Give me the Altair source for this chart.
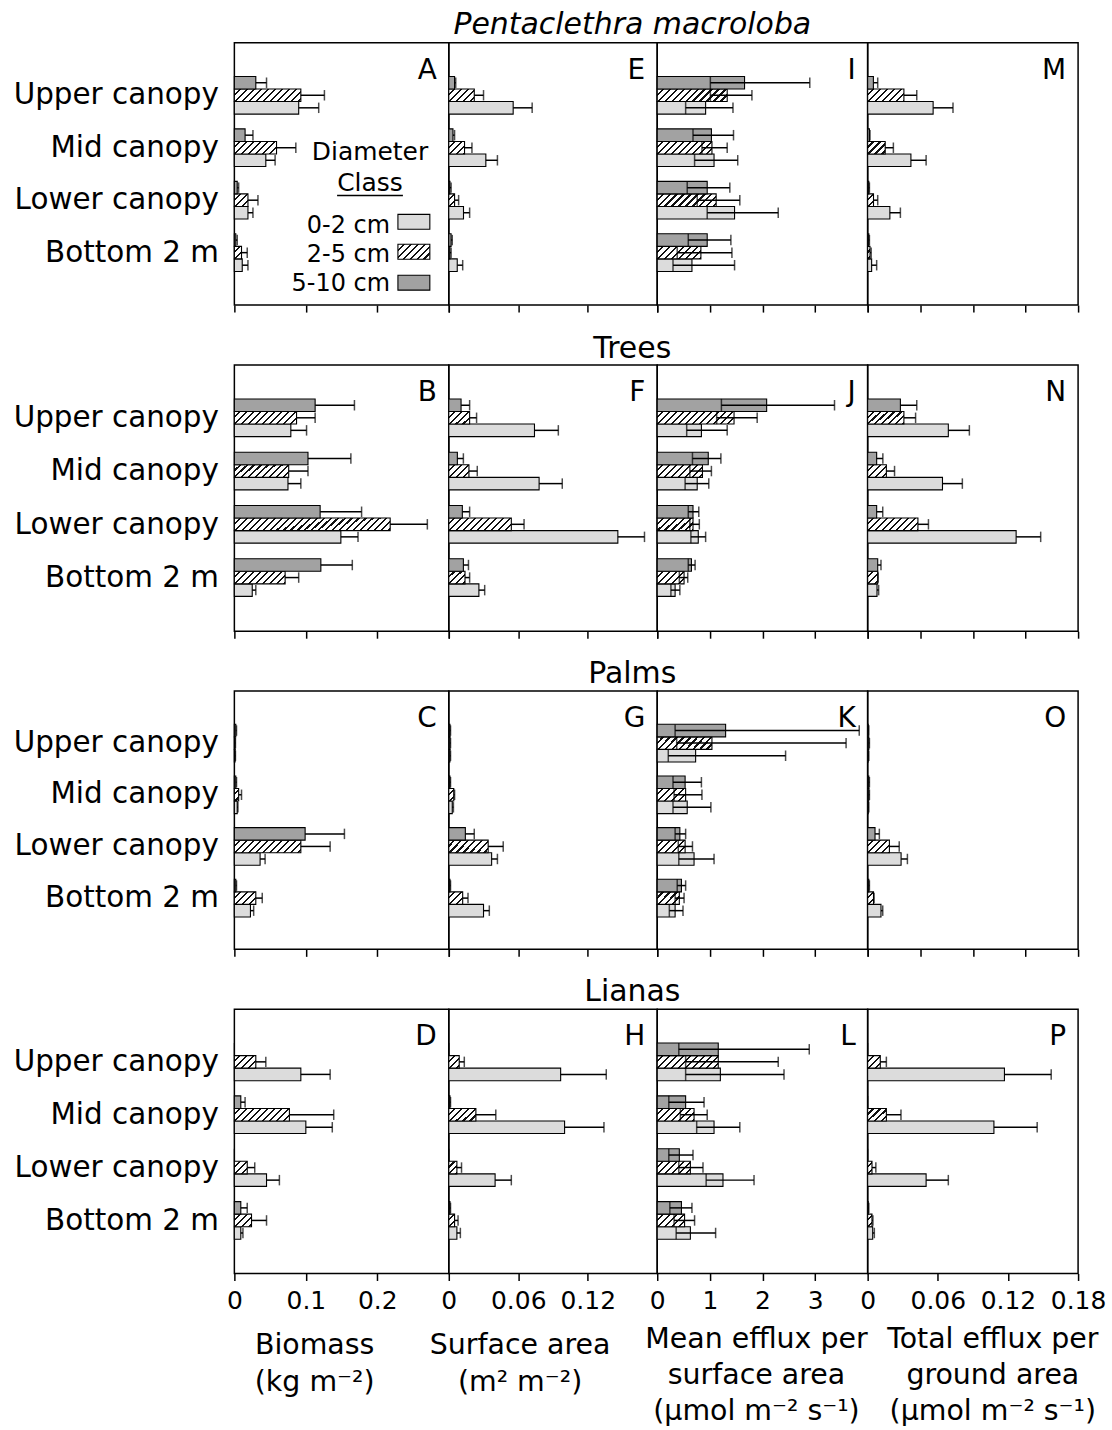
import altair as alt

# ---------------------------------------------------------------- categories
categories = ["Upper canopy", "Mid canopy", "Lower canopy", "Bottom 2 m"]
classes = ["0-2 cm", "2-5 cm", "5-10 cm"]
bar_order = ["5-10 cm", "2-5 cm", "0-2 cm"]  # top-to-bottom inside one canopy layer
groups = ["Pentaclethra macroloba", "Trees", "Palms", "Lianas"]
letters = [["A", "E", "I", "M"], ["B", "F", "J", "N"], ["C", "G", "K", "O"], ["D", "H", "L", "P"]]

# ---------------------------------------------------------------- axes
x_max = [0.3, 0.18, 4.0, 0.18]
ticks_bottom = [[0, 0.1, 0.2], [0, 0.06, 0.12], [0, 1, 2, 3], [0, 0.06, 0.12, 0.18]]
ticks_upper = [[0, 0.1, 0.2, 0.3], [0, 0.06, 0.12, 0.18], [0, 1, 2, 3, 4], [0, 0.045, 0.09, 0.135, 0.18]]
x_titles = [["Biomass", "(kg m⁻²)"],
            ["Surface area", "(m² m⁻²)"],
            ["Mean efflux per", "surface area", "(µmol m⁻² s⁻¹)"],
            ["Total efflux per", "ground area", "(µmol m⁻² s⁻¹)"]]

# ---------------------------------------------------------------- data
# mean per diameter class (ordered as `categories`); *_top = end of error bar;
# *_inner = inner marker drawn inside the efflux bars
pm_biomass = {"0-2 cm": [0.090, 0.044, 0.019, 0.011], "2-5 cm": [0.093, 0.059, 0.019, 0.010], "5-10 cm": [0.030, 0.015, 0.004, 0.002]}
pm_biomass_top = {"0-2 cm": [0.118, 0.057, 0.026, 0.019], "2-5 cm": [0.126, 0.086, 0.033, 0.018], "5-10 cm": [0.045, 0.026, 0.006, 0.004]}
pm_area = {"0-2 cm": [0.0556, 0.032, 0.0127, 0.0073], "2-5 cm": [0.022, 0.0136, 0.005, 0.001], "5-10 cm": [0.005, 0.0036, 0.001, 0.002]}
pm_area_top = {"0-2 cm": [0.072, 0.042, 0.018, 0.012], "2-5 cm": [0.030, 0.020, 0.0085, 0.002], "5-10 cm": [0.006, 0.005, 0.002, 0.003]}
pm_flux = {"0-2 cm": [0.92, 1.08, 1.47, 0.66], "2-5 cm": [1.33, 1.04, 1.12, 0.83], "5-10 cm": [1.66, 1.03, 0.95, 0.95]}
pm_flux_inner = {"0-2 cm": [0.54, 0.71, 0.95, 0.30], "2-5 cm": [1.01, 0.85, 0.76, 0.38], "5-10 cm": [1.01, 0.68, 0.57, 0.59]}
pm_flux_top = {"0-2 cm": [1.44, 1.53, 2.30, 1.47], "2-5 cm": [1.80, 1.33, 1.57, 1.42], "5-10 cm": [2.90, 1.45, 1.38, 1.40]}
pm_total = {"0-2 cm": [0.056, 0.037, 0.019, 0.0034], "2-5 cm": [0.031, 0.015, 0.005, 0.002], "5-10 cm": [0.0049, 0.0015, 0.001, 0.001]}
pm_total_top = {"0-2 cm": [0.073, 0.050, 0.028, 0.0077], "2-5 cm": [0.042, 0.022, 0.0086, 0.003], "5-10 cm": [0.0086, 0.002, 0.0015, 0.0015]}

tr_biomass = {"0-2 cm": [0.079, 0.075, 0.149, 0.025], "2-5 cm": [0.087, 0.076, 0.218, 0.071], "5-10 cm": [0.113, 0.103, 0.120, 0.121]}
tr_biomass_top = {"0-2 cm": [0.101, 0.093, 0.173, 0.030], "2-5 cm": [0.113, 0.103, 0.270, 0.090], "5-10 cm": [0.168, 0.163, 0.178, 0.165]}
tr_area = {"0-2 cm": [0.074, 0.078, 0.146, 0.026], "2-5 cm": [0.018, 0.0174, 0.054, 0.014], "5-10 cm": [0.0106, 0.0074, 0.0117, 0.0126]}
tr_area_top = {"0-2 cm": [0.0946, 0.098, 0.169, 0.031], "2-5 cm": [0.024, 0.0246, 0.065, 0.018], "5-10 cm": [0.018, 0.0126, 0.018, 0.017]}
tr_flux = {"0-2 cm": [0.84, 0.76, 0.78, 0.34], "2-5 cm": [1.46, 0.86, 0.68, 0.51], "5-10 cm": [2.08, 0.97, 0.68, 0.65]}
tr_flux_inner = {"0-2 cm": [0.56, 0.53, 0.64, 0.26], "2-5 cm": [1.13, 0.62, 0.62, 0.42], "5-10 cm": [1.22, 0.67, 0.59, 0.59]}
tr_flux_top = {"0-2 cm": [1.33, 0.98, 0.92, 0.43], "2-5 cm": [1.90, 1.03, 0.80, 0.58], "5-10 cm": [3.37, 1.21, 0.79, 0.72]}
tr_total = {"0-2 cm": [0.069, 0.064, 0.127, 0.008], "2-5 cm": [0.031, 0.016, 0.043, 0.0086], "5-10 cm": [0.028, 0.0077, 0.0077, 0.0086]}
tr_total_top = {"0-2 cm": [0.087, 0.081, 0.148, 0.0094], "2-5 cm": [0.041, 0.023, 0.052, 0.009], "5-10 cm": [0.042, 0.013, 0.0129, 0.0114]}

pa_biomass = {"0-2 cm": [0.001, 0.004, 0.036, 0.0225], "2-5 cm": [0.001, 0.006, 0.093, 0.030], "5-10 cm": [0.002, 0.002, 0.099, 0.002]}
pa_biomass_top = {"0-2 cm": [0.0015, 0.005, 0.043, 0.027], "2-5 cm": [0.0015, 0.010, 0.134, 0.039], "5-10 cm": [0.003, 0.003, 0.154, 0.003]}
pa_area = {"0-2 cm": [0.001, 0.003, 0.037, 0.030], "2-5 cm": [0.001, 0.0043, 0.034, 0.012], "5-10 cm": [0.001, 0.001, 0.0143, 0.001]}
pa_area_top = {"0-2 cm": [0.0015, 0.004, 0.042, 0.035], "2-5 cm": [0.0015, 0.005, 0.047, 0.0166], "5-10 cm": [0.0015, 0.0015, 0.022, 0.0015]}
pa_flux = {"0-2 cm": [0.73, 0.57, 0.70, 0.34], "2-5 cm": [1.04, 0.54, 0.53, 0.42], "5-10 cm": [1.30, 0.53, 0.43, 0.46]}
pa_flux_inner = {"0-2 cm": [0.21, 0.30, 0.41, 0.23], "2-5 cm": [0.37, 0.32, 0.40, 0.34], "5-10 cm": [0.34, 0.30, 0.34, 0.38]}
pa_flux_top = {"0-2 cm": [2.44, 1.02, 1.08, 0.49], "2-5 cm": [3.59, 0.85, 0.67, 0.51], "5-10 cm": [3.84, 0.84, 0.54, 0.54]}
pa_total = {"0-2 cm": [0.0005, 0.0005, 0.0286, 0.0114], "2-5 cm": [0.001, 0.001, 0.0186, 0.005], "5-10 cm": [0.0005, 0.001, 0.0063, 0.001]}
pa_total_top = {"0-2 cm": [0.001, 0.001, 0.034, 0.0129], "2-5 cm": [0.0015, 0.0015, 0.027, 0.0055], "5-10 cm": [0.001, 0.0015, 0.010, 0.0015]}

li_biomass = {"0-2 cm": [0.093, 0.100, 0.045, 0.009], "2-5 cm": [0.030, 0.077, 0.018, 0.024], "5-10 cm": [0.0, 0.009, 0.0, 0.009]}
li_biomass_top = {"0-2 cm": [0.134, 0.137, 0.063, 0.012], "2-5 cm": [0.044, 0.139, 0.0285, 0.045], "5-10 cm": [0.0, 0.015, 0.0, 0.018]}
li_area = {"0-2 cm": [0.0966, 0.100, 0.040, 0.007], "2-5 cm": [0.009, 0.0234, 0.007, 0.005], "5-10 cm": [0.0, 0.001, 0.0, 0.001]}
li_area_top = {"0-2 cm": [0.136, 0.134, 0.054, 0.010], "2-5 cm": [0.0134, 0.0406, 0.011, 0.008], "5-10 cm": [0.0, 0.0015, 0.0, 0.0015]}
li_flux = {"0-2 cm": [1.20, 1.08, 1.25, 0.63], "2-5 cm": [1.16, 0.70, 0.63, 0.52], "5-10 cm": [1.16, 0.54, 0.42, 0.46]}
li_flux_inner = {"0-2 cm": [0.54, 0.75, 0.93, 0.36], "2-5 cm": [0.54, 0.44, 0.41, 0.32], "5-10 cm": [0.41, 0.22, 0.22, 0.24]}
li_flux_top = {"0-2 cm": [2.41, 1.57, 1.84, 1.11], "2-5 cm": [2.30, 0.95, 0.87, 0.71], "5-10 cm": [2.89, 0.89, 0.68, 0.66]}
li_total = {"0-2 cm": [0.117, 0.108, 0.050, 0.0043], "2-5 cm": [0.0108, 0.016, 0.0037, 0.0037], "5-10 cm": [0.0, 0.0, 0.0, 0.0005]}
li_total_top = {"0-2 cm": [0.157, 0.145, 0.069, 0.0057], "2-5 cm": [0.016, 0.0285, 0.007, 0.0045], "5-10 cm": [0.0, 0.0, 0.0, 0.001]}

panels = [
    [(pm_biomass, pm_biomass_top, None), (pm_area, pm_area_top, None), (pm_flux, pm_flux_top, pm_flux_inner), (pm_total, pm_total_top, None)],
    [(tr_biomass, tr_biomass_top, None), (tr_area, tr_area_top, None), (tr_flux, tr_flux_top, tr_flux_inner), (tr_total, tr_total_top, None)],
    [(pa_biomass, pa_biomass_top, None), (pa_area, pa_area_top, None), (pa_flux, pa_flux_top, pa_flux_inner), (pa_total, pa_total_top, None)],
    [(li_biomass, li_biomass_top, None), (li_area, li_area_top, None), (li_flux, li_flux_top, li_flux_inner), (li_total, li_total_top, None)],
]

# ---------------------------------------------------------------- layout / style
FONT = "DejaVu Sans"
col_w = [215, 209, 211, 211]
row_h = [263, 267, 259, 265]
ROW_GAP = 60
SUB_PAD = 0.59
solid = {"0-2 cm": "#dcdcdc", "5-10 cm": "#a2a2a2"}
title_x = [80, 71, 99, 125]
title_y = [80, 80, 74, 74]
title_lh = [37.5, 37.5, 36, 36]
group_title_x = 184       # centre of the group heading, measured in the second column
group_title_y = [-9, -7, -8, -8]


def hatch(w, h, period=7.0, ink=0.3):
    """Diagonal '////' hatching as a linear gradient in bounding-box units."""
    if w < 2:
        return "#ffffff"
    s = (w + h) * w / (w * w + h * h)     # gradient reaches t = 1 at the far corner
    n = (w + h) / period
    stops = []
    k = 0
    while k < n:
        a = k / n
        b = min((k + 1 - ink) / n, 1.0)
        c = min((k + 1) / n, 1.0)
        stops += [{"offset": round(a, 4), "color": "#ffffff"},
                  {"offset": round(b, 4), "color": "#ffffff"},
                  {"offset": round(b, 4), "color": "#111111"},
                  {"offset": round(c, 4), "color": "#111111"}]
        k += 1
    stops.append({"offset": 1, "color": "#ffffff"})
    return {"gradient": "linear", "x1": 0, "y1": 0, "x2": round(s, 4), "y2": round(s * h / w, 4), "stops": stops}


def legend_layers():
    one = alt.Data(values=[{"k": 0}])
    out = []
    for txt, yy, fs in (("Diameter", 118, 25), ("Class", 149, 25)):
        out.append(alt.Chart(one).mark_text(align="center", baseline="alphabetic", fontSize=fs, font=FONT,
                                            color="black").encode(text=alt.value(txt), x=alt.value(136), y=alt.value(yy)))
    out.append(alt.Chart(one).mark_rule(color="black", strokeWidth=1.5).encode(
        x=alt.value(103), x2=alt.value(169), y=alt.value(153)))
    for cls, base_y, top_y in (("0-2 cm", 191, 172), ("2-5 cm", 220, 202), ("5-10 cm", 249, 233)):
        out.append(alt.Chart(one).mark_text(align="right", baseline="alphabetic", fontSize=24, font=FONT,
                                            color="black").encode(text=alt.value(cls), x=alt.value(156), y=alt.value(base_y)))
        paint = hatch(32, 15) if cls == "2-5 cm" else solid[cls]
        out.append(alt.Chart(one).mark_rect(stroke="black", strokeWidth=1.1).encode(
            x=alt.value(164), x2=alt.value(196), y=alt.value(top_y), y2=alt.value(top_y + 15),
            fill=alt.value(paint)))
    return out


def panel(r, c):
    mean, top, inner = panels[r][c]
    w, h = col_w[c], row_h[r]
    bar_h = h / 5 / (3 + 2 * SUB_PAD)
    recs = []
    for cls in classes:
        for i, cat in enumerate(categories):
            m = mean[cls][i]
            inn = inner[cls][i] if inner else None
            paint = hatch(m / x_max[c] * w, bar_h) if cls == "2-5 cm" else solid[cls]
            recs.append({"cat": cat, "cls": cls, "mean": m, "upper": top[cls][i],
                         "lo": inn if inn is not None else m, "inner": inn, "paint": paint})
    data = alt.Data(values=recs)

    if r == 3:
        xaxis = alt.Axis(values=ticks_bottom[c], format="~g", labels=True, labelFontSize=25,
                         labelPadding=8, labelFont=FONT, labelFlush=False, labelOverlap=False,
                         ticks=True, tickSize=7, tickWidth=1.5, tickColor="black", domain=False, grid=False,
                         title=x_titles[c], titleFont=FONT, titleFontSize=28.5, titleFontWeight="normal",
                         titleX=title_x[c], titleY=title_y[c], titleAlign="center", titleBaseline="alphabetic",
                         titleLineHeight=title_lh[c], titleColor="black", labelColor="black")
    else:
        xaxis = alt.Axis(values=ticks_upper[c], labels=False, ticks=True, tickSize=7, tickWidth=1.5,
                         tickColor="black", domain=False, grid=False, title=None)
    xs = alt.Scale(domain=[0, x_max[c]], nice=False, zero=True)
    if c == 0:
        yaxis = alt.Axis(title=None, domain=False, ticks=False, labelFontSize=29.5, labelFont=FONT,
                         labelPadding=16, labelColor="black", labelLimit=400)
    else:
        yaxis = None
    Y = alt.Y("cat:N", sort=categories, scale=alt.Scale(domain=categories, paddingInner=0, paddingOuter=0.5), axis=yaxis)
    YO = alt.YOffset("cls:N", sort=bar_order, scale=alt.Scale(domain=bar_order, paddingInner=0, paddingOuter=SUB_PAD))

    base = alt.Chart(data)
    bars = base.mark_bar(stroke="black", strokeWidth=1.1).encode(
        x=alt.X("mean:Q", scale=xs, axis=xaxis), y=Y, yOffset=YO,
        fill=alt.Fill("paint:N", scale=None, legend=None))
    err = base.transform_filter("datum.upper > datum.lo").mark_rule(color="black", strokeWidth=1.5).encode(
        x=alt.X("lo:Q", scale=xs, axis=xaxis), x2="upper:Q", y=Y, yOffset=YO)
    caps = base.transform_filter("datum.upper > datum.lo").mark_tick(
        color="black", thickness=1.5, size=10.5, orient="vertical").encode(
        x=alt.X("upper:Q", scale=xs, axis=xaxis), y=Y, yOffset=YO)
    layers = [bars]
    if inner:
        layers.append(base.mark_tick(color="black", thickness=1.5, size=bar_h, orient="vertical").encode(
            x=alt.X("inner:Q", scale=xs, axis=xaxis), y=Y, yOffset=YO))
    layers += [err, caps]

    layers.append(alt.Chart(alt.Data(values=[{"t": letters[r][c]}])).mark_text(
        align="right", baseline="alphabetic", fontSize=28, font=FONT, color="black").encode(
        text="t:N", x=alt.value(w - 12), y=alt.value(36)))

    if c == 1:
        layers.append(alt.Chart(alt.Data(values=[{"t": groups[r]}])).mark_text(
            align="center", baseline="alphabetic", fontSize=30, font=FONT, color="black",
            fontStyle="italic" if r == 0 else "normal").encode(
            text="t:N", x=alt.value(group_title_x), y=alt.value(group_title_y[r])))

    if r == 0 and c == 0:
        layers += legend_layers()
    return alt.layer(*layers).properties(width=w, height=h)


chart = alt.concat(
    *[panel(r, c) for r in range(4) for c in range(4)],
    columns=4, spacing={"row": ROW_GAP, "column": 0}, bounds="flush",
).configure(padding={"left": 12, "top": 7, "right": 5, "bottom": 0}).configure_view(
    stroke="black", strokeWidth=1.5)

chart.save("out.html", embed_options={"renderer": "svg", "actions": False})
